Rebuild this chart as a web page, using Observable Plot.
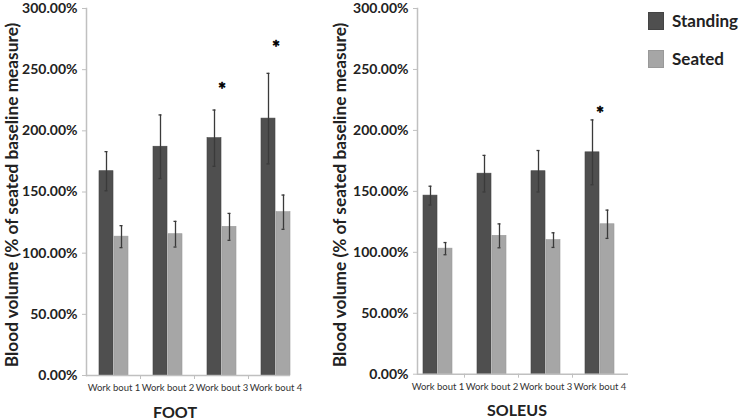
<!DOCTYPE html>
<html><head><meta charset="utf-8">
<script src="https://cdn.jsdelivr.net/npm/d3@7"></script>
<script src="https://cdn.jsdelivr.net/npm/@observablehq/plot@0.6"></script>
<style>
body{margin:0;background:#fff;}
#wrap{position:relative;width:741px;height:419px;overflow:hidden;font-family:Lato,"Open Sans",sans-serif;color:#222;}
.panel{position:absolute;top:0;}
.ytitle{position:absolute;font-weight:bold;font-size:17.3px;white-space:nowrap;transform:translate(-50%,-50%) rotate(-90deg);}
.ptitle{position:absolute;font-weight:bold;font-size:16px;white-space:nowrap;transform:translate(-50%,-50%);}
.leg{position:absolute;display:flex;align-items:center;font-weight:bold;font-size:17px;white-space:nowrap;}
.sw{width:16px;height:18px;margin-right:8px;box-sizing:border-box;flex:none;}
</style></head>
<body>
<div id="wrap"></div>
<script>
const bouts = ["Work bout 1", "Work bout 2", "Work bout 3", "Work bout 4"];
const yTicks = [0, 50, 100, 150, 200, 250, 300];
// FOOT
const footStanding = [167, 187, 194, 210];
const footStandingErr = [16, 26, 23, 37];
const footSeated = [113.5, 115.5, 121.5, 133.5];
const footSeatedErr = [9, 10.5, 11, 14];
const footSig = [{bout: "Work bout 3", value: 237.5}, {bout: "Work bout 4", value: 271.5}];
// SOLEUS
const soleusStanding = [146.5, 164.5, 166.5, 182];
const soleusStandingErr = [7.7, 15, 17, 26.6];
const soleusSeated = [103, 113.5, 110, 123];
const soleusSeatedErr = [5, 9.8, 6, 11.6];
const soleusSig = [{bout: "Work bout 4", value: 218}];

const seriesNames = ["Standing", "Seated"];
const standingColor = "#4f4f4f";
const seatedColor = "#a6a6a6";
const axisColor = "#c0c0c0";
const errColor = "#3a3a3a";

function panel(standing, stdErr, seated, seatErr, sig, o) {
  const rows = bouts.map((b, i) => ({bout: b, standing: standing[i], se: stdErr[i], seated: seated[i], ze: seatErr[i]}));
  const bw = 15;
  return Plot.plot({
    width: o.width, height: 419,
    marginLeft: o.ml, marginRight: o.mr, marginTop: o.mt, marginBottom: o.mb,
    style: {fontFamily: "Lato, 'Open Sans', sans-serif", background: "transparent", overflow: "visible"},
    x: {domain: bouts, range: o.xr, paddingInner: 0.4545, paddingOuter: 0.2273},
    y: {domain: [0, 300]},
    marks: [
      Plot.barY(rows, {x: "bout", y: "standing", fill: standingColor, stroke: "#444", strokeWidth: 0.6, insetRight: bw}),
      Plot.barY(rows, {x: "bout", y: "seated", fill: seatedColor, stroke: "#9a9a9a", strokeWidth: 0.6, insetLeft: bw}),
      Plot.ruleX(rows, {x: "bout", y1: d => d.standing - d.se, y2: d => d.standing + d.se, dx: -bw / 2, stroke: errColor, strokeWidth: 1.3}),
      Plot.ruleX(rows, {x: "bout", y1: d => d.seated - d.ze, y2: d => d.seated + d.ze, dx: bw / 2, stroke: errColor, strokeWidth: 1.3}),
      Plot.tickY(rows, {x: "bout", y: d => d.standing + d.se, insetLeft: 5.5, insetRight: 20.5, stroke: errColor, strokeWidth: 1.3}),
      Plot.tickY(rows, {x: "bout", y: d => d.standing - d.se, insetLeft: 5.5, insetRight: 20.5, stroke: errColor, strokeWidth: 1.3}),
      Plot.tickY(rows, {x: "bout", y: d => d.seated + d.ze, insetLeft: 20.5, insetRight: 5.5, stroke: errColor, strokeWidth: 1.3}),
      Plot.tickY(rows, {x: "bout", y: d => d.seated - d.ze, insetLeft: 20.5, insetRight: 5.5, stroke: errColor, strokeWidth: 1.3}),
      Plot.frame({anchor: "left", stroke: axisColor, strokeWidth: 1.5}),
      Plot.ruleY([0], {stroke: axisColor, strokeWidth: 1.5}),
      Plot.axisY({ticks: yTicks, tickFormat: d => d.toFixed(2) + "%", tickSize: 4, tickPadding: 5, stroke: axisColor, fill: "#222", fontWeight: "bold", fontSize: 14, label: null}),
      Plot.axisX({ticks: bouts.slice(1), tickSize: 4, tickFormat: () => "", dx: -27.5, stroke: axisColor, label: null}),
      Plot.axisX({tickSize: 0, tickPadding: 9, fontSize: 9.5, fill: "#333", label: null}),
      Plot.text(sig, {x: "bout", y: "value", text: () => "*", fontSize: 19, fontWeight: "bold", fill: "#000", stroke: "#000", strokeWidth: 0.6, dy: 5})
    ]
  });
}

const wrap = document.getElementById("wrap");
const left = panel(footStanding, footStandingErr, footSeated, footSeatedErr, footSig,
  {width: 330, ml: 86, mr: 40, mt: 8, mb: 44, xr: [84.5, 304.5]});
left.classList.add("panel"); left.style.left = "0px";
wrap.appendChild(left);
const right = panel(soleusStanding, soleusStandingErr, soleusSeated, soleusSeatedErr, soleusSig,
  {width: 411, ml: 87, mr: 113, mt: 8, mb: 45.3, xr: [79, 299]});
right.classList.add("panel"); right.style.left = "330px";
wrap.appendChild(right);

function addDiv(cls, text, x, y) {
  const d = document.createElement("div");
  d.className = cls; d.textContent = text;
  d.style.left = x + "px"; d.style.top = y + "px";
  wrap.appendChild(d);
  return d;
}
const yTitle = "Blood volume (% of seated baseline measure)";
addDiv("ytitle", yTitle, 11, 195);
addDiv("ytitle", yTitle, 339, 195);
addDiv("ptitle", "FOOT", 175, 411);
addDiv("ptitle", "SOLEUS", 517, 409);
// legend
[standingColor, seatedColor].forEach((c, i) => {
  const d = document.createElement("div");
  d.className = "leg";
  d.style.left = "648px"; d.style.top = (10 + i * 38) + "px";
  const sw = document.createElement("span");
  sw.className = "sw"; sw.style.background = c;
  sw.style.border = "1px solid " + (i === 0 ? "#444" : "#999");
  const t = document.createElement("span"); t.textContent = seriesNames[i];
  d.appendChild(sw); d.appendChild(t);
  wrap.appendChild(d);
});
</script>
</body></html>
